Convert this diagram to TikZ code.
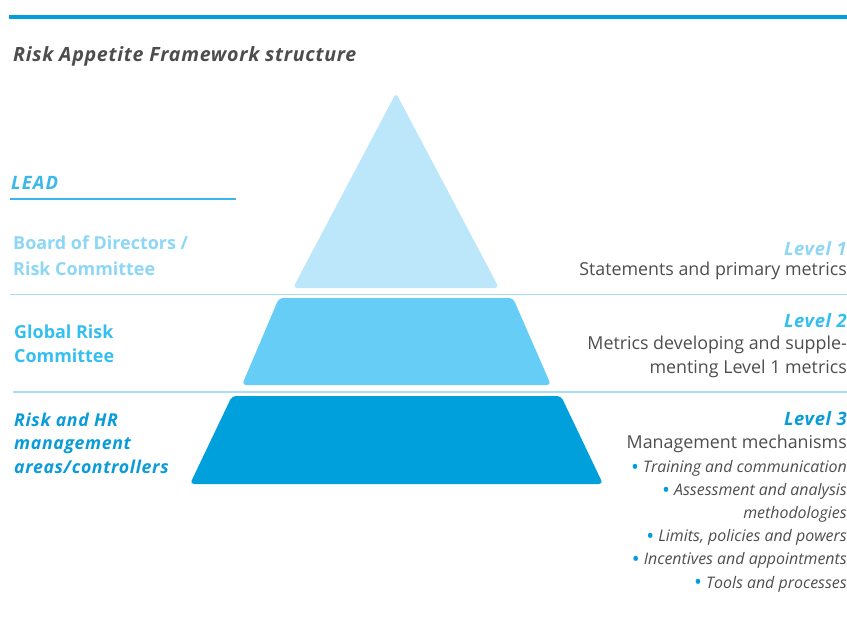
\documentclass[tikz,border=0pt]{standalone}
\usepackage{fontspec}
\setmainfont{Open Sans}
\newfontfamily\rafwide{Open Sans}[LetterSpace=3.5]
\newfontfamily\rafwider{Open Sans}[LetterSpace=6]
\definecolor{rafline}{HTML}{009FDB}
\definecolor{rafrule}{HTML}{A8DEF6}
\definecolor{raftop}{HTML}{BCE6F9}
\definecolor{rafmid}{HTML}{66CDF6}
\definecolor{rafbot}{HTML}{00A0DC}
\definecolor{rafgrey}{HTML}{4D4D4F}
\definecolor{raflead}{HTML}{3BB8EB}
\definecolor{rafone}{HTML}{8DD6F6}
\definecolor{raftwo}{HTML}{35BEF0}
\definecolor{rafthree}{HTML}{0A9BD9}
\newcommand{\rafdot}{\raisebox{-1.8bp}{\upshape\fontsize{21}{21}\selectfont\textcolor{rafline}{•}}}

\begin{document}
\begin{tikzpicture}[x=1bp,y=-1bp,
  lbl/.style={anchor=base west,inner sep=0pt,font=\bfseries\fontsize{18}{24}\selectfont},
  lvl/.style={anchor=base east,inner sep=0pt,font=\rafwide\bfseries\itshape\fontsize{18.5}{24}\selectfont},
  desc/.style={anchor=base east,inner sep=0pt,text=rafgrey,font=\fontsize{17.9}{24}\selectfont},
  item/.style={anchor=base east,inner sep=0pt,text=rafgrey,font=\itshape\fontsize{16}{23.2}\selectfont},
  layer/.style={rounded corners=4bp}]
  \useasboundingbox (0,0) rectangle (847,617);
  % heading
  \draw[rafline,line width=4bp] (9,17) -- (847,17);
  \node[lbl,font=\rafwide\bfseries\itshape\fontsize{19.7}{24}\selectfont,text=rafgrey] (title) at (13,62) {Risk Appetite Framework structure};
  % pyramid
  \fill[layer,raftop] (396,93) -- (499,288) -- (293,288) -- cycle;
  \fill[layer,rafmid] (279,298) -- (513,298) -- (551,385) -- (242,385) -- cycle;
  \fill[layer,rafbot] (232,396) -- (561,396) -- (603,484) -- (190,484) -- cycle;
  % rules
  \draw[raflead,line width=1.6bp] (10,199) -- (236,199);
  \draw[rafrule,line width=1bp] (10,294) -- (847,294);
  \draw[rafrule,line width=1.2bp] (13,392) -- (847,392);
  % left labels (base = last line)
  \node[lbl,font=\rafwider\bfseries\itshape\fontsize{18.5}{24}\selectfont,text=raflead] (lead) at (11,190) {LEAD};
  \node[lbl,text=rafone,align=left] (board) at (13,275) {Board of Directors /\\[2bp]Risk Committee};
  \node[lbl,text=raftwo,align=left] (grc) at (14,362) {Global Risk\\Committee};
  \node[lbl,font=\rafwide\bfseries\itshape\fontsize{17.8}{23.5}\selectfont,text=rafthree,align=left] (hr) at (14,473) {Risk and HR\\management\\areas/controllers};
  % right labels
  \node[lvl,text=rafone] (lone) at (847,255) {Level 1};
  \node[desc] (done) at (847,275) {Statements and primary metrics};
  \node[lvl,text=raftwo] (ltwo) at (847,327) {Level 2};
  \node[desc,align=right] (dtwo) at (847,373) {Metrics developing and supple-\\menting Level 1 metrics};
  \node[lvl,text=rafthree] (lthree) at (847,425) {Level 3};
  \node[desc] (dthree) at (847,448) {Management mechanisms};
  \node[item,align=right] (items) at (847,588) {\rafdot\ Training and communication\\
    \rafdot\ Assessment and analysis\\
    methodologies\\
    \rafdot\ Limits, policies and powers\\
    \rafdot\ Incentives and appointments\\
    \rafdot\ Tools and processes};
\end{tikzpicture}
\end{document}
